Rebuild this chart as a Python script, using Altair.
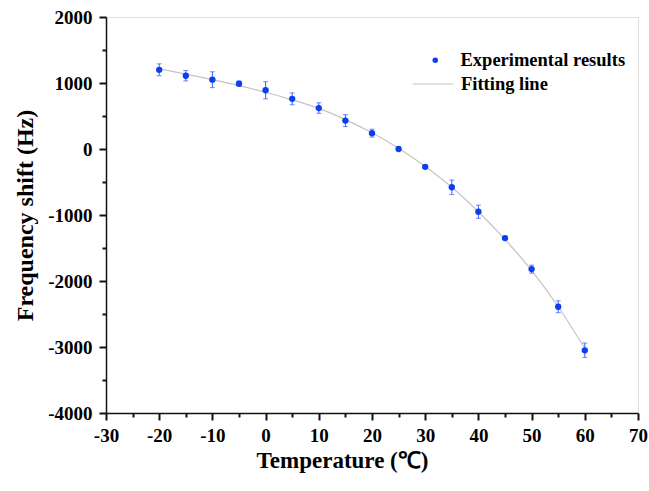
import altair as alt
import pandas as pd

temps = [-20, -15, -10, -5, 0, 5, 10, 15, 20, 25, 30, 35, 40, 45, 50, 55, 60]
shift = [1200, 1110, 1050, 990, 890, 760, 620, 430, 240, 0, -270, -580, -950, -1350, -1820, -2390, -3050]
err = [90, 80, 120, 40, 130, 90, 80, 90, 60, 20, 20, 110, 100, 20, 60, 90, 110]
fit_t = [-20, -15, -10, -5, 0, 5, 10, 15, 20, 25, 30, 35, 40, 45, 50, 55, 60]
fit_v = [1215, 1135, 1050, 960, 860, 745, 615, 445, 245, 10, -265, -580, -950, -1370, -1840, -2390, -3020]

x_major = list(range(-30, 80, 10))
x_minor = list(range(-25, 70, 10))
y_major = list(range(-4000, 3000, 1000))
y_minor = list(range(-3500, 2000, 1000))

df = pd.DataFrame({"t": temps, "v": shift, "lo": [a - b for a, b in zip(shift, err)],
                   "hi": [a + b for a, b in zip(shift, err)],
                   "s": ["Experimental results"] * len(temps)})
dfit = pd.DataFrame({"t": fit_t, "v": fit_v, "s": ["Fitting line"] * len(fit_t)})

FONT = "Liberation Serif"
BLUE = "#0b3df2"
INK = "#111111"

xscale = alt.Scale(domain=[-30, 70], nice=False, zero=False)
yscale = alt.Scale(domain=[-4000, 2000], nice=False, zero=False)

common = dict(grid=False, domainColor=INK, ticks=True, tickColor=INK, tickOpacity=1,
              tickWidth=2, domainWidth=1.5,
              labelFont=FONT, labelFontSize=19, labelFontWeight="bold", labelColor="black",
              titleFont=FONT, titleFontWeight="bold", titleColor="black",
              labelFlush=False)

xaxis = alt.Axis(values=x_major, title="Temperature (℃)", orient="bottom",
                 labelExpr="'' + datum.value", tickSize=7, labelPadding=6, titlePadding=4,
                 titleFontSize=23, titleX=236, titleAlign="center", **common)
yaxis = alt.Axis(values=y_major, title="Frequency shift (Hz)", orient="left",
                 labelExpr="'' + datum.value", tickSize=7, labelPadding=7, titlePadding=10,
                 titleFontSize=24, **common)
xaxis_minor = alt.Axis(values=x_minor, title=None, orient="bottom", labels=False, domain=False,
                       ticks=True, tickSize=4, grid=False, tickColor=INK, tickWidth=2)
yaxis_minor = alt.Axis(values=y_minor, title=None, orient="left", labels=False, domain=False,
                       ticks=True, tickSize=4, grid=False, tickColor=INK, tickWidth=2)

line = alt.Chart(dfit).mark_line(interpolate="monotone", strokeWidth=1.2).encode(
    x=alt.X("t:Q", scale=xscale, axis=xaxis),
    y=alt.Y("v:Q", scale=yscale, axis=yaxis),
    stroke=alt.Stroke("s:N", scale=alt.Scale(domain=["Fitting line"], range=["#c4c4c4"]),
                      legend=alt.Legend(title=None, orient="none", legendX=306, legendY=46,
                                        symbolType="stroke", symbolSize=1600, symbolStrokeWidth=1.2,
                                        labelFont=FONT, labelFontSize=18.5, labelFontWeight="bold",
                                        labelColor="black", labelOffset=7, labelLimit=0)),
)

bars = alt.Chart(df).mark_errorbar(ticks={"size": 5, "color": "#3a5cf0"}, color="#3a5cf0", thickness=1).encode(
    x=alt.X("t:Q", scale=xscale, axis=xaxis_minor),
    y=alt.Y("lo:Q", scale=yscale, axis=yaxis_minor),
    y2="hi:Q",
)

pts = alt.Chart(df).mark_circle(size=40, opacity=1).encode(
    x=alt.X("t:Q", scale=xscale, axis=None),
    y=alt.Y("v:Q", scale=yscale, axis=None),
    fill=alt.Fill("s:N", scale=alt.Scale(domain=["Experimental results"], range=[BLUE]),
                  legend=alt.Legend(title=None, orient="none", legendX=320, legendY=34,
                                    symbolType="circle", symbolSize=30,
                                    labelFont=FONT, labelFontSize=18.5, labelFontWeight="bold",
                                    labelColor="black", labelOffset=16, labelLimit=0)),
)

chart = alt.layer(line, bars, pts).resolve_axis(x="independent", y="independent").properties(
    width=532, height=396,
    autosize=alt.AutoSizeParams(type="none"),
    padding={"left": 106, "top": 17, "right": 11, "bottom": 78},
).configure_view(stroke=INK, strokeWidth=1.5).configure(background="white")

chart.save("out.html", embed_options={"renderer": "svg", "actions": False})
